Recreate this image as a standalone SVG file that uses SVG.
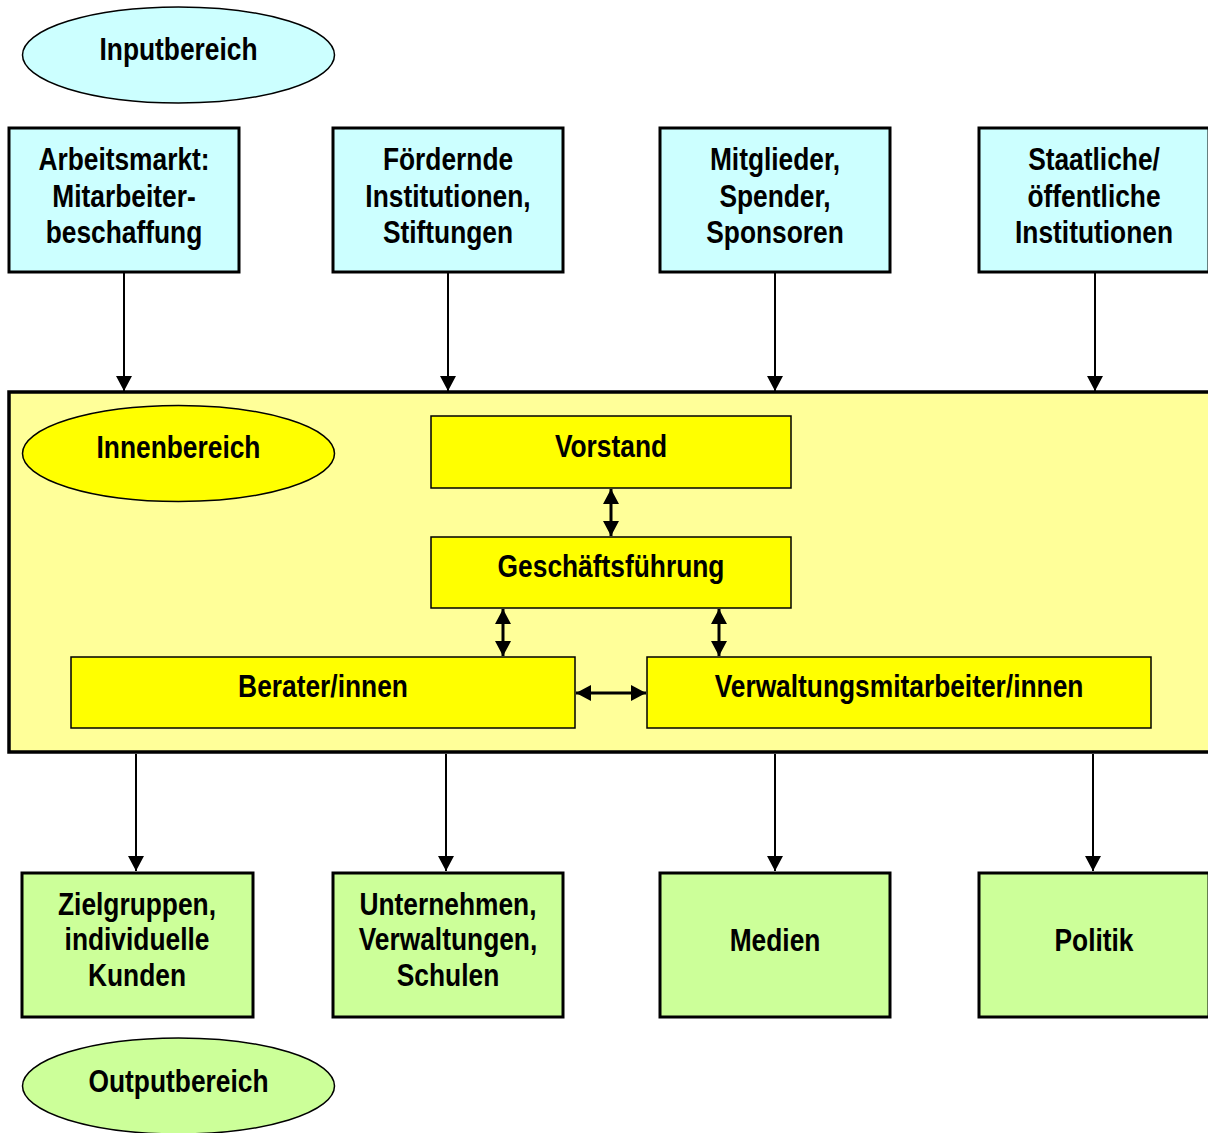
<svg xmlns="http://www.w3.org/2000/svg" width="1208" height="1133" viewBox="0 0 1208 1133">
<style>
text{font-family:"Liberation Sans Narrow","Arial Narrow","Liberation Sans",Arial,sans-serif;font-weight:bold;font-size:31px;fill:#000;text-anchor:middle}
.in{fill:#CCFFFF;stroke:#000;stroke-width:3}
.out{fill:#CCFF99;stroke:#000;stroke-width:3}
.inner{fill:#FFFF00;stroke:#000;stroke-width:1.5}
.ell{stroke:#000;stroke-width:1.5}
.c{stroke:#000;stroke-width:2;fill:none}
.d{stroke:#000;stroke-width:3;fill:none}
</style>
<defs>
<marker id="ah" markerUnits="userSpaceOnUse" markerWidth="15" markerHeight="16" refX="15" refY="8" orient="auto-start-reverse" viewBox="0 0 15 16">
<path d="M0,0 L15,8 L0,16 Z" fill="#000"/>
</marker>
</defs>
<g id="inputbereich"><ellipse class="ell" cx="178.5" cy="55" rx="156" ry="48" fill="#CCFFFF"/><text transform="translate(178.5,60) scale(0.85,1)">Inputbereich</text></g>
<g id="arbeitsmarkt"><rect class="in" x="9" y="128" width="230" height="144"/><text transform="translate(124,170) scale(0.85,1)">Arbeitsmarkt:</text><text transform="translate(124,207) scale(0.85,1)">Mitarbeiter-</text><text transform="translate(124,243) scale(0.85,1)">beschaffung</text></g>
<g id="foerdernde"><rect class="in" x="333" y="128" width="230" height="144"/><text transform="translate(448,170) scale(0.85,1)">Fördernde</text><text transform="translate(448,207) scale(0.85,1)">Institutionen,</text><text transform="translate(448,243) scale(0.85,1)">Stiftungen</text></g>
<g id="mitglieder"><rect class="in" x="660" y="128" width="230" height="144"/><text transform="translate(775,170) scale(0.85,1)">Mitglieder,</text><text transform="translate(775,207) scale(0.85,1)">Spender,</text><text transform="translate(775,243) scale(0.85,1)">Sponsoren</text></g>
<g id="staatliche"><rect class="in" x="979" y="128" width="230" height="144"/><text transform="translate(1094,170) scale(0.85,1)">Staatliche/</text><text transform="translate(1094,207) scale(0.85,1)">öffentliche</text><text transform="translate(1094,243) scale(0.85,1)">Institutionen</text></g>
<g id="innenbereich-box"><rect x="9" y="392" width="1210" height="360" fill="#FFFF99" stroke="#000" stroke-width="3.5"/></g>
<g id="innenbereich"><ellipse class="ell" cx="178.5" cy="453.5" rx="156" ry="48" fill="#FFFF00"/><text transform="translate(178.5,458) scale(0.85,1)">Innenbereich</text></g>
<g id="vorstand"><rect class="inner" x="431" y="416" width="360" height="72"/><text transform="translate(611,457) scale(0.85,1)">Vorstand</text></g>
<g id="geschaeftsfuehrung"><rect class="inner" x="431" y="537" width="360" height="71"/><text transform="translate(611,577) scale(0.85,1)">Geschäftsführung</text></g>
<g id="berater"><rect class="inner" x="71" y="657" width="504" height="71"/><text transform="translate(323,697) scale(0.85,1)">Berater/innen</text></g>
<g id="verwaltung"><rect class="inner" x="647" y="657" width="504" height="71"/><text transform="translate(899,697) scale(0.85,1)">Verwaltungsmitarbeiter/innen</text></g>
<g id="zielgruppen"><rect class="out" x="22" y="873" width="231" height="144"/><text transform="translate(137,915) scale(0.85,1)">Zielgruppen,</text><text transform="translate(137,950) scale(0.85,1)">individuelle</text><text transform="translate(137,986) scale(0.85,1)">Kunden</text></g>
<g id="unternehmen"><rect class="out" x="333" y="873" width="230" height="144"/><text transform="translate(448,915) scale(0.85,1)">Unternehmen,</text><text transform="translate(448,950) scale(0.85,1)">Verwaltungen,</text><text transform="translate(448,986) scale(0.85,1)">Schulen</text></g>
<g id="medien"><rect class="out" x="660" y="873" width="230" height="144"/><text transform="translate(775,951) scale(0.85,1)">Medien</text></g>
<g id="politik"><rect class="out" x="979" y="873" width="230" height="144"/><text transform="translate(1094,951) scale(0.85,1)">Politik</text></g>
<g id="outputbereich"><ellipse class="ell" cx="178.5" cy="1086" rx="156" ry="48" fill="#CCFF99"/><text transform="translate(178.5,1092) scale(0.85,1)">Outputbereich</text></g>
<g id="connectors">
<line class="c" x1="124" y1="273" x2="124" y2="391" marker-end="url(#ah)"/>
<line class="c" x1="448" y1="273" x2="448" y2="391" marker-end="url(#ah)"/>
<line class="c" x1="775" y1="273" x2="775" y2="391" marker-end="url(#ah)"/>
<line class="c" x1="1095" y1="273" x2="1095" y2="391" marker-end="url(#ah)"/>
<line class="d" x1="611" y1="489" x2="611" y2="536" marker-start="url(#ah)" marker-end="url(#ah)"/>
<line class="d" x1="503" y1="609" x2="503" y2="656" marker-start="url(#ah)" marker-end="url(#ah)"/>
<line class="d" x1="719" y1="609" x2="719" y2="656" marker-start="url(#ah)" marker-end="url(#ah)"/>
<line class="d" x1="576" y1="693" x2="646" y2="693" marker-start="url(#ah)" marker-end="url(#ah)"/>
<line class="c" x1="136" y1="754" x2="136" y2="871" marker-end="url(#ah)"/>
<line class="c" x1="446" y1="754" x2="446" y2="871" marker-end="url(#ah)"/>
<line class="c" x1="775" y1="754" x2="775" y2="871" marker-end="url(#ah)"/>
<line class="c" x1="1093" y1="754" x2="1093" y2="871" marker-end="url(#ah)"/>
</g>
</svg>
